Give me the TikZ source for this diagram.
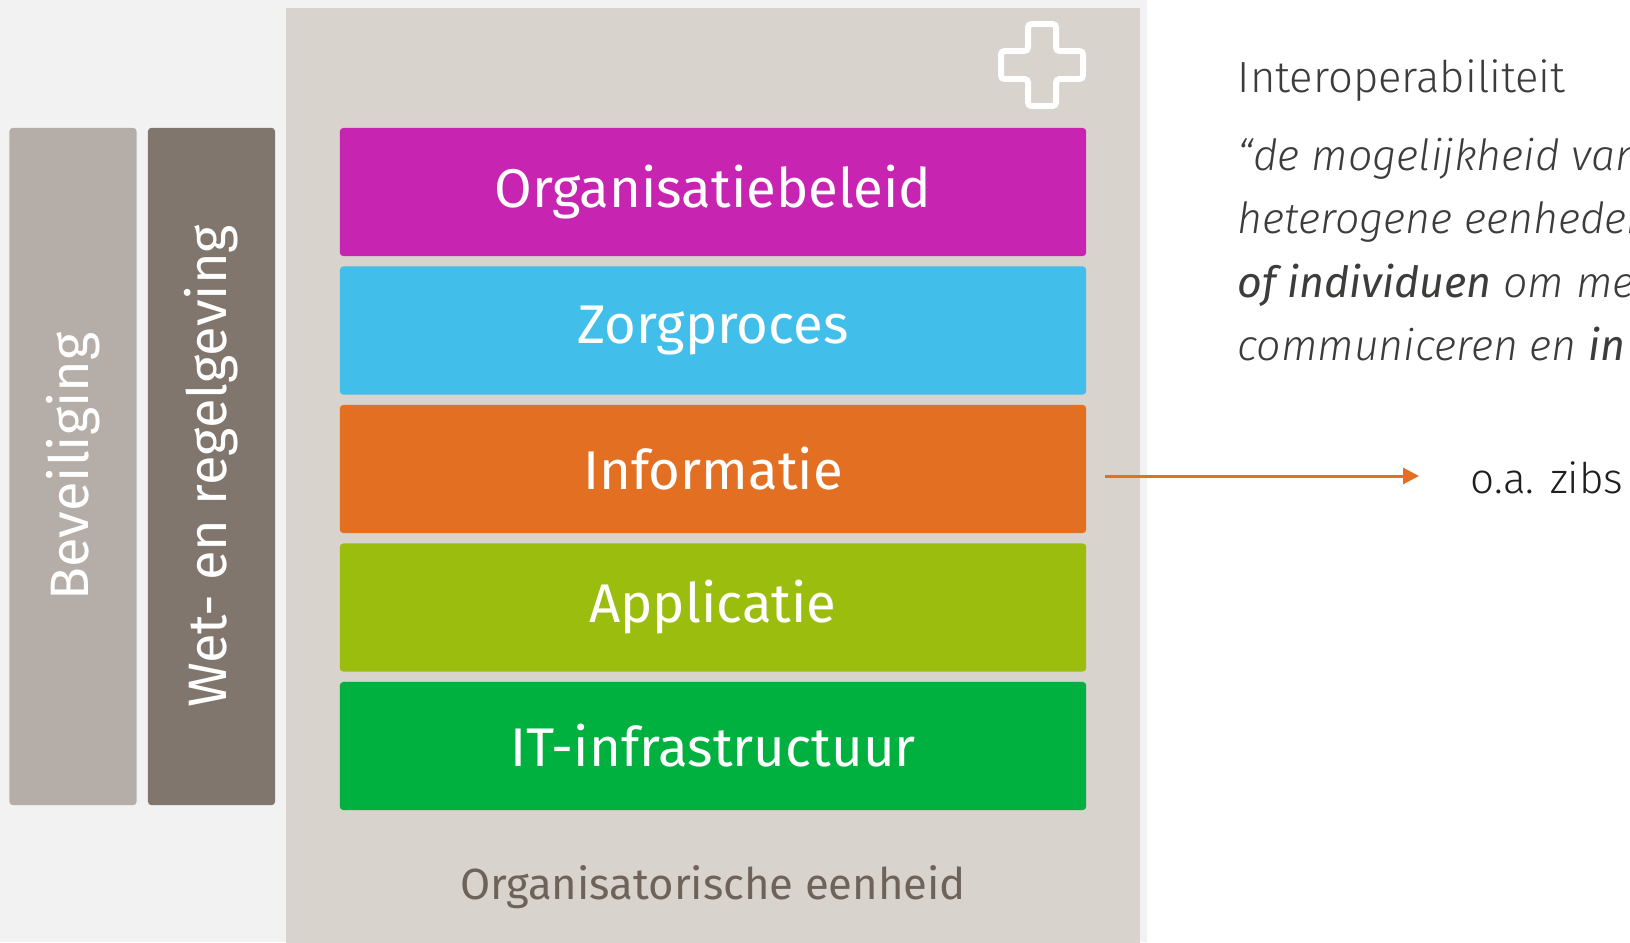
\documentclass[tikz,border=0pt]{standalone}
\usepackage{fontspec}
\setmainfont{Fira Sans}
\IfFontExistsTF{Fira Sans Light}{%
  \IfFontExistsTF{Fira Sans Light Italic}{%
    \newfontfamily\lightfont{Fira Sans Light}[ItalicFont={Fira Sans Light Italic}]}{%
    \newfontfamily\lightfont{Fira Sans Light}}}{%
  \newfontfamily\lightfont{Fira Sans}}
\usetikzlibrary{arrows.meta,positioning,calc}
\usepackage{xcolor}
\definecolor{pagegrey}{HTML}{F2F2F2}
\definecolor{unitgrey}{HTML}{D8D3CD}
\definecolor{barlight}{HTML}{B5ADA7}
\definecolor{bardark}{HTML}{80766D}
\definecolor{unittext}{HTML}{6E635A}
\definecolor{beleidpink}{HTML}{C724B1}
\definecolor{procescyan}{HTML}{41BFEA}
\definecolor{infoorange}{HTML}{E36F23}
\definecolor{applgreen}{HTML}{9BBE0E}
\definecolor{itgreen}{HTML}{00B140}
\definecolor{darktext}{HTML}{3C3C3B}

\begin{document}
\begin{tikzpicture}[x=0.01cm, y=-0.01cm,
    layer/.style={draw=none, rounded corners=1pt, minimum width=7.46cm, minimum height=1.28cm,
      inner sep=0pt, text=white, font=\fontsize{15.5}{19}\selectfont},
    sidebar/.style={rotate=90, rounded corners=1pt, minimum width=6.77cm, minimum height=1.27cm,
      inner sep=0pt, text=white, font=\fontsize{15.4}{19}\selectfont},
    quoteline/.style={anchor=base west, inner sep=0pt, text=darktext,
      font=\lightfont\itshape\fontsize{12.2}{15}\selectfont}]
    \useasboundingbox (0,0) rectangle (1630,942);
    \clip (0,0) rectangle (1630,942);

    % Background
    \fill[white] (0,0) rectangle (1630,942);
    \fill[pagegrey] (0,0) rectangle (1147,942);
    \fill[unitgrey] (286,8) rectangle (1140,950);

    % Cross
    \draw[white, line width=1.7pt, rounded corners=1pt]
      (1028,24) -- (1056,24) -- (1056,51) -- (1083,51) -- (1083,79) -- (1056,79)
      -- (1056,106) -- (1028,106) -- (1028,79) -- (1001,79) -- (1001,51) -- (1028,51) -- cycle;

    % Side bars
    \node[sidebar, fill=barlight] (beveiliging) at (73,466.5) {Beveiliging};
    \node[sidebar, fill=bardark] (wetgeving) at (211.5,466.5) {Wet- en regelgeving};

    % Layers
    \node[layer, fill=beleidpink] (beleid) at (713,192) {Organisatiebeleid};
    \node[layer, fill=procescyan] (zorg) at (713,330.5) {Zorgproces};
    \node[layer, fill=infoorange] (info) at (713,469) {Informatie};
    \node[layer, fill=applgreen] (appl) at (713,607.5) {Applicatie};
    \node[layer, fill=itgreen] (infra) at (713,746) {IT-infrastructuur};

    \node[anchor=base, text=unittext, font=\fontsize{12.4}{16}\selectfont] (eenheid) at (713,899)
      {Organisatorische eenheid};

    % Right side
    \node[anchor=base west, inner sep=0pt, text=darktext, font=\lightfont\fontsize{12.4}{15}\selectfont]
      (titel) at (1237,92) {Interoperabiliteit};
    \node[quoteline] (q1) at (1237,170) {“de mogelijkheid van};
    \node[quoteline] (q2) at (1237,233) {heterogene eenheden};
    \node[quoteline] (q3) at (1237,297) {{\normalfont\itshape\fontsize{12.2}{15}\selectfont of individuen} om met};
    \node[quoteline] (q4) at (1237,360) {communiceren en {\normalfont\itshape\fontsize{12.2}{15}\selectfont in}};

    \node[anchor=base west, inner sep=0pt, text=black!88, font=\lightfont\fontsize{12}{15}\selectfont]
      (zibs) at (1470,493) {o.a. zibs};
    \coordinate (pijlstart) at (1105,476);
    \draw[infoorange, line width=0.85pt, -{Triangle[length=4.5pt, width=4.5pt]}]
      (pijlstart) -- ($(pijlstart -| zibs.west) + (-51,0)$);
\end{tikzpicture}
\end{document}
